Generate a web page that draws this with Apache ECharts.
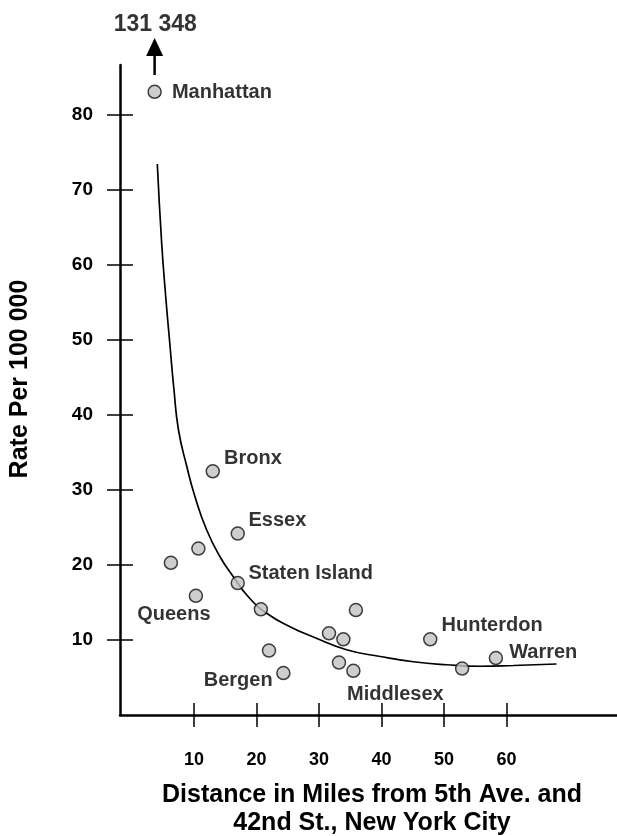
<!DOCTYPE html>
<html>
<head>
<meta charset="utf-8">
<script src="https://cdn.jsdelivr.net/npm/echarts@6/dist/echarts.min.js"></script>
<style>
  html, body { margin: 0; padding: 0; background: #fff; }
  #chart { width: 617px; height: 836px; }
</style>
</head>
<body>
<div id="chart"></div>
<script>
// data
var distance = [3.7, 13.0, 17.0, 10.7, 6.3, 17.0, 10.3, 20.7, 35.9, 31.6, 33.9, 22.0, 33.2, 35.5, 24.3, 47.8, 52.9, 58.3];
var rate     = [83.1, 32.5, 24.2, 22.2, 20.3, 17.6, 15.9, 14.1, 14.0, 10.9, 10.1, 8.6, 7.0, 5.9, 5.6, 10.1, 6.2, 7.6];
var county   = ['Manhattan', 'Bronx', 'Essex', '', '', 'Staten Island', 'Queens', '', '', '', '', '', '', 'Middlesex', 'Bergen', 'Hunterdon', '', 'Warren'];
// Manhattan is off the scale
var manhattanRate = '131 348';

// fitted curve, points
var curveX = [4.13, 4.83, 5.52, 6.08, 6.8, 7.52, 8.83, 10.16, 12.03, 14.16, 16.29, 18.69, 21.63, 25.36, 29.1, 34.4, 39.8, 45.1, 50.4, 55.8, 61.1, 68.0];
var curveY = [73.47, 62.89, 55.33, 50.0, 43.33, 38.0, 33.2, 29.1, 24.67, 21.1, 18.44, 15.77, 13.56, 11.77, 10.4, 8.7, 7.8, 7.1, 6.7, 6.5, 6.6, 6.8];

var xTicks = [10, 20, 30, 40, 50, 60];
var yTicks = [10, 20, 30, 40, 50, 60, 70, 80];

var FONT = '"Liberation Sans", Arial, Helvetica, sans-serif';

// label placement per county
var labelPos = {
	'Manhattan':     { position: 'right', distance: 10, offset: [0, 1] },
	'Bronx':         { position: 'right', distance: 4, offset: [0, -13] },
	'Essex':         { position: 'right', distance: 3.5, offset: [0, -13] },
	'Staten Island': { position: 'right', distance: 3.5, offset: [0, -10] },
	'Queens':        { position: 'inside', offset: [-22, 19] },
	'Bergen':        { position: 'left', distance: 3.5, offset: [0, 7] },
	'Middlesex':     { position: 'inside', offset: [42, 24] },
	'Hunterdon':     { position: 'right', distance: 4, offset: [0, -14] },
	'Warren':        { position: 'right', distance: 6, offset: [0, -6] }
};

var labelText = { color: '#000', fontSize: 20, fontWeight: 'bold', fontFamily: FONT, textBorderWidth: 0 };

var points = distance.map(function(d, i) {
	var item = { value: [d, rate[i]], name: county[i] };
	if (county[i]) {
		var p = labelPos[county[i]];
		item.label = Object.assign({
			show: true,
			position: p.position,
			distance: p.distance || 0,
			offset: p.offset
		}, labelText);
	}
	return item;
});

var curve = curveX.map(function(x, i) { return [x, curveY[i]]; });

var xMin = -1.84, xMax = 77.68;

var axisLineStyle = { color: '#000', width: 2.5 };
var tickStyle = { color: '#000', width: 1.5 };

var myChart = echarts.init(document.getElementById('chart'), null, { renderer: 'canvas' });
var option = {
	backgroundColor: '#fff',
	animation: false,
	grid: [
		{ left: 120, right: 0, top: 65, bottom: 121 },
		{ left: 120, right: 0, top: 0, bottom: 121 }
	],
	xAxis: [
		{
			type: 'value', gridIndex: 0, position: 'bottom', min: xMin, max: xMax,
			splitLine: { show: false },
			axisLine: { onZero: false, lineStyle: axisLineStyle },
			axisTick: { show: true, length: 12, lineStyle: tickStyle, customValues: xTicks },
			axisLabel: { customValues: xTicks, margin: 36, color: '#000', fontSize: 18, fontWeight: 'bold', fontFamily: FONT }
		},
		{
			// inner half of the crossing ticks
			type: 'value', gridIndex: 0, position: 'bottom', min: xMin, max: xMax,
			splitLine: { show: false },
			axisLine: { show: false, onZero: false },
			axisTick: { show: true, inside: true, length: 12, lineStyle: tickStyle, customValues: xTicks },
			axisLabel: { show: false }
		},
		{
			type: 'value', gridIndex: 1, min: xMin, max: xMax, show: false
		}
	],
	yAxis: [
		{
			type: 'value', gridIndex: 0, position: 'left', min: 0, max: 86.67,
			splitLine: { show: false },
			axisLine: { onZero: false, lineStyle: axisLineStyle },
			axisTick: { show: true, length: 13, lineStyle: tickStyle, customValues: yTicks },
			axisLabel: { customValues: yTicks, margin: 27, color: '#000', fontSize: 19, fontWeight: 'bold', fontFamily: FONT }
		},
		{
			type: 'value', gridIndex: 0, position: 'left', min: 0, max: 86.67,
			splitLine: { show: false },
			axisLine: { show: false, onZero: false },
			axisTick: { show: true, inside: true, length: 13, lineStyle: tickStyle, customValues: yTicks },
			axisLabel: { show: false }
		},
		{
			type: 'value', gridIndex: 1, min: 0, max: 95.33, show: false
		}
	],
	graphic: [
		{
			type: 'text', x: 20, y: 379, rotation: Math.PI / 2,
			style: { text: 'Rate Per 100 000', fill: '#000', font: 'bold 25px ' + FONT, textAlign: 'center', textVerticalAlign: 'middle' }
		},
		{
			type: 'text', x: 372, y: 809,
			style: { text: 'Distance in Miles from 5th Ave. and\n42nd St., New York City', fill: '#000', font: 'bold 25px ' + FONT, lineHeight: 28, textAlign: 'center', textVerticalAlign: 'middle' }
		}
	],
	series: [
		{
			name: 'curve', type: 'line', xAxisIndex: 0, yAxisIndex: 0,
			data: curve, smooth: 0.5, showSymbol: false, symbol: 'none',
			lineStyle: { color: '#000', width: 1.7 }, z: 2
		},
		{
			name: 'counties', type: 'scatter', xAxisIndex: 0, yAxisIndex: 0,
			data: points, symbol: 'circle', symbolSize: 13,
			itemStyle: { color: '#c2c2c2', borderColor: '#111', borderWidth: 1.5 },
			label: Object.assign({ formatter: '{b}' }, labelText),
			z: 3
		},
		{
			// arrow pointing to the off-scale Manhattan value
			name: 'arrow', type: 'line', xAxisIndex: 2, yAxisIndex: 2,
			data: [
				{ value: [distance[0], 85.33], symbol: 'none' },
				{ value: [distance[0], 89.07], symbol: 'triangle', symbolSize: [17, 18] }
			],
			showSymbol: true,
			lineStyle: { color: '#000', width: 2.5 },
			itemStyle: { color: '#000' },
			z: 3
		},
		{
			name: 'offscale', type: 'scatter', xAxisIndex: 2, yAxisIndex: 2,
			data: [[distance[0] + 0.1, 92.0]], symbolSize: 0,
			label: Object.assign({ show: true, position: 'inside', formatter: manhattanRate }, labelText, { fontSize: 23 })
		}
	]
};
myChart.setOption(option);
window.onresize = myChart.resize;
</script>
</body>
</html>
